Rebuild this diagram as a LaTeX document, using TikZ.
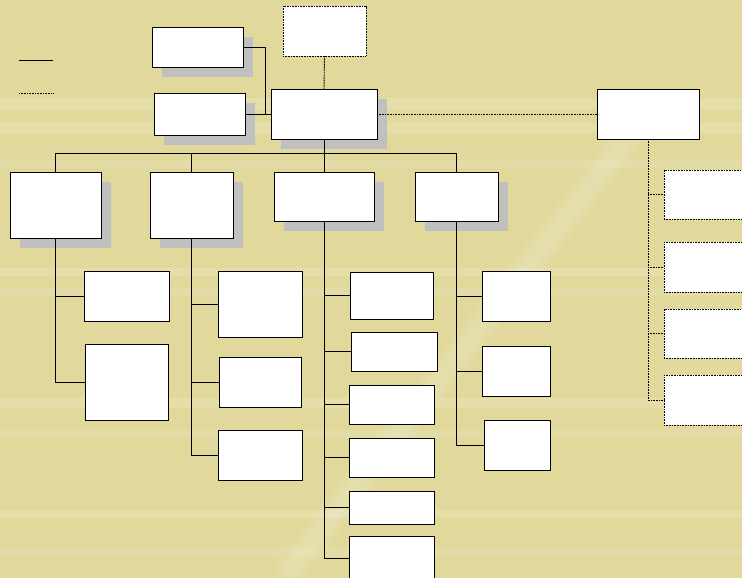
\documentclass[tikz,border=0pt]{standalone}
\usetikzlibrary{shadows}
\definecolor{bgkhaki}{RGB}{225,217,156}
\definecolor{shadowgray}{RGB}{192,192,192}
\tikzset{
  x=1pt, y=-1pt,
  orgnode/.style={draw=black, fill=white, line width=0.9pt, inner sep=0pt, outer sep=0pt},
  shadowed/.style={orgnode, drop shadow={shadow xshift=10pt, shadow yshift=-10pt, fill=shadowgray, opacity=1}},
  dotnode/.style={orgnode, dash pattern=on 1pt off 0.6pt, line width=0.9pt},
  link/.style={draw=black, line width=0.8pt},
  dotlink/.style={draw=black, line width=0.9pt, dash pattern=on 1pt off 0.6pt},
  streak/.style={fill=white, opacity=0.14}
}
\newcommand\orgbox[6]{%
  \node[#6, minimum width={#4pt-#2pt}, minimum height={#5pt-#3pt}] (#1) at ({(#2+#4)/2},{(#3+#5)/2}) {};}
\begin{document}
\begin{tikzpicture}
\useasboundingbox (0,0) rectangle (742,578);
\clip (0,0) rectangle (742,578);
% background
\fill[bgkhaki] (0,0) rectangle (742,578);
\fill[streak] (0,98) rectangle (742,110);
\fill[streak] (0,122) rectangle (742,134);
\fill[streak,opacity=0.1] (0,160) rectangle (742,168);
\fill[streak] (0,268) rectangle (742,276);
\fill[streak,opacity=0.1] (0,288) rectangle (742,296);
\fill[streak] (0,398) rectangle (742,408);
\fill[streak,opacity=0.1] (0,430) rectangle (742,438);
\fill[streak] (0,510) rectangle (742,518);
\fill[streak,opacity=0.1] (0,548) rectangle (742,556);
\foreach \w in {30,20,12}{\draw[white, opacity=0.07, line width=\w pt, line cap=round] (650,110) -- (290,570);}
% legend
\coordinate (l1a) at (19,60); \coordinate (l1b) at (53,60);
\coordinate (l2a) at (19,93); \coordinate (l2b) at (53,93);
\draw[link] (l1a) -- (l1b);
\draw[dotlink] (l2a) -- (l2b);
% top level
\orgbox{top}{283}{6}{366}{56}{dotnode}
\orgbox{A}{152}{27}{243}{67}{shadowed}
\orgbox{B}{154}{93}{245}{135}{shadowed}
\orgbox{M}{271}{89}{377}{139}{shadowed}
\orgbox{R}{597}{89}{699}{139}{orgnode}
% second level
\orgbox{Ca}{10}{172}{101}{238}{shadowed}
\orgbox{Cb}{150}{172}{233}{238}{shadowed}
\orgbox{Cc}{274}{172}{374}{221}{shadowed}
\orgbox{Cd}{415}{172}{498}{221}{shadowed}
% children of Ca
\orgbox{a1}{84}{271}{169}{321}{orgnode}
\orgbox{a2}{85}{344}{168}{420}{orgnode}
% children of Cb
\orgbox{b1}{218}{271}{302}{337}{orgnode}
\orgbox{b2}{219}{357}{301}{407}{orgnode}
\orgbox{b3}{218}{430}{302}{480}{orgnode}
% children of Cc
\orgbox{c1}{350}{272}{433}{319}{orgnode}
\orgbox{c2}{351}{332}{437}{371}{orgnode}
\orgbox{c3}{349}{385}{434}{424}{orgnode}
\orgbox{c4}{349}{438}{434}{477}{orgnode}
\orgbox{c5}{349}{491}{434}{524}{orgnode}
\orgbox{c6}{349}{536}{434}{580}{orgnode}
% children of Cd
\orgbox{d1}{482}{271}{550}{321}{orgnode}
\orgbox{d2}{482}{346}{550}{396}{orgnode}
\orgbox{d3}{484}{420}{550}{470}{orgnode}
% children of R
\orgbox{r1}{664}{170}{770}{219}{dotnode}
\orgbox{r2}{664}{242}{770}{292}{dotnode}
\orgbox{r3}{664}{309}{770}{358}{dotnode}
\orgbox{r4}{664}{375}{770}{425}{dotnode}
% connectors top
\draw[dotlink] (top.south) -- (M.north);
\draw[link] (A.east) -- ++(22,0) |- (M.west);
\draw[link] (B.east) -- (M.west);
\draw[dotlink] (M.east) -- (R.west);
% bus
\coordinate (bus) at (324,153);
\draw[link] (M.south) -- (bus);
\draw[link] (Ca.north) -- (Ca.north |- bus) -- (Cd.north |- bus) -- (Cd.north);
\draw[link] (Cb.north |- bus) -- (Cb.north);
\draw[link] (bus) -- (Cc.north);
% Ca branch
\draw[link] (Ca.south) -- (Ca.south |- a2.west) -- (a2.west);
\draw[link] (Ca.south |- a1.west) -- (a1.west);
% Cb branch
\draw[link] (Cb.south) -- (Cb.south |- b3.west) -- (b3.west);
\draw[link] (Cb.south |- b1.west) -- (b1.west);
\draw[link] (Cb.south |- b2.west) -- (b2.west);
% Cc branch
\draw[link] (Cc.south) -- (Cc.south |- c6.west) -- (c6.west);
\foreach \k in {c1,c2,c3,c4,c5}{\draw[link] (Cc.south |- \k.west) -- (\k.west);}
% Cd branch
\draw[link] (Cd.south) -- (Cd.south |- d3.west) -- (d3.west);
\draw[link] (Cd.south |- d1.west) -- (d1.west);
\draw[link] (Cd.south |- d2.west) -- (d2.west);
% R branch
\draw[dotlink] (R.south) -- (R.south |- r4.west) -- (r4.west);
\foreach \k in {r1,r2,r3}{\draw[dotlink] (R.south |- \k.west) -- (\k.west);}
\end{tikzpicture}
\end{document}
